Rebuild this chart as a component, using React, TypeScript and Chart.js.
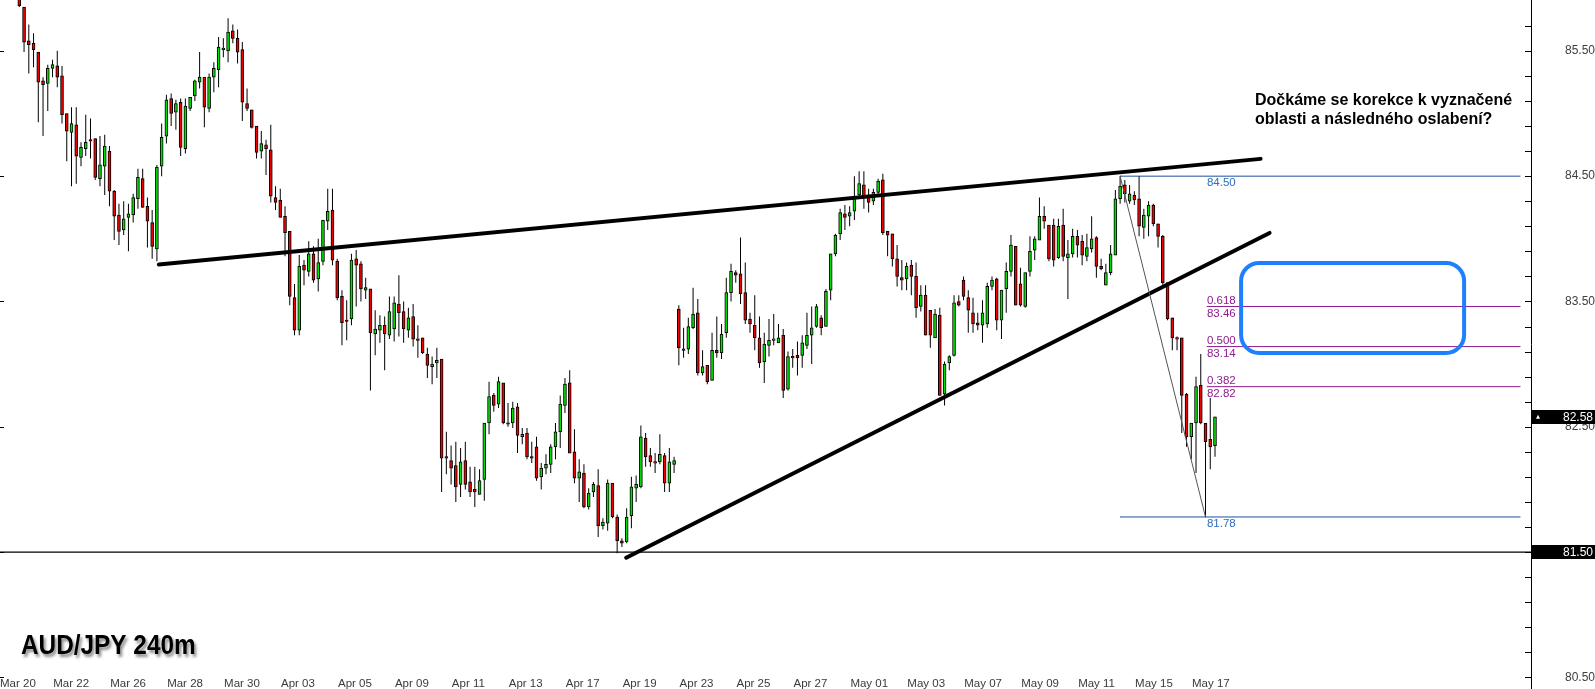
import React, { useEffect, useRef } from 'react';
import { Chart, registerables } from 'chart.js';

Chart.register(...registerables);

const W = 1595;
const H = 689;

// ---- candle data (AUD/JPY, 4h bars) ----
const opens = [
  85.93, 85.85, 85.58, 85.56, 85.49, 85.26, 85.24, 85.36, 85.38, 85.30,
  85.00, 84.85, 84.91, 84.65, 84.72, 84.79, 84.80, 84.48, 84.58, 84.70,
  84.38, 84.19, 84.07, 84.17, 84.19, 84.32, 84.48, 84.26, 84.13, 83.92,
  84.58, 84.82, 85.12, 85.01, 85.09, 84.72, 85.04, 85.14, 85.25, 85.29,
  85.04, 85.29, 85.35, 85.51, 85.50, 85.66, 85.60, 85.51, 85.08, 85.03,
  84.90, 84.70, 84.75, 84.71, 84.33, 84.31, 84.18, 84.06, 83.53, 83.27,
  83.79, 83.74, 83.88, 83.68, 83.82, 84.14, 84.23, 83.82, 83.54, 83.35,
  83.36, 83.84, 83.80, 83.59, 83.60, 83.24, 83.27, 83.31, 83.23, 83.28,
  83.48, 83.42, 83.27, 83.38, 83.20, 83.21, 83.08, 82.98, 83.01, 83.04,
  82.26, 82.23, 82.19, 82.04, 82.23, 82.06, 82.00, 81.96, 82.08, 82.53,
  82.75, 82.68, 82.85, 82.53, 82.53, 82.66, 82.42, 82.45, 82.26, 82.34,
  82.10, 82.17, 82.20, 82.34, 82.46, 82.67, 82.85, 82.30, 82.09, 82.13,
  81.86, 81.98, 82.03, 81.71, 81.73, 82.05, 81.78, 81.59, 81.58, 81.79,
  82.01, 82.02, 82.41, 82.27, 82.22, 82.22, 82.27, 82.05, 82.20, 83.44,
  83.12, 83.12, 83.29, 83.41, 82.93, 82.99, 82.87, 83.11, 83.09, 83.25,
  83.57, 83.73, 83.72, 83.57, 83.36, 83.31, 83.21, 83.02, 83.15, 83.19,
  83.17, 83.23, 82.80, 83.06, 83.07, 83.07, 83.15, 83.23, 83.30, 83.37,
  83.30, 83.59, 83.88, 84.04, 84.20, 84.18, 84.22, 84.35, 84.43, 84.35,
  84.30, 84.37, 84.47, 84.06, 84.04, 83.84, 83.69, 83.68, 83.79, 83.70,
  83.46, 83.55, 83.43, 83.21, 83.39, 82.76, 83.01, 83.07, 83.50, 83.67,
  83.53, 83.41, 83.33, 83.31, 83.32, 83.62, 83.68, 83.35, 83.60, 83.74,
  83.94, 83.64, 83.46, 83.74, 83.91, 83.99, 84.18, 84.11, 84.11, 83.85,
  84.11, 83.85, 83.88, 84.02, 83.98, 83.86, 83.92, 84.01, 83.78, 83.63,
  83.73, 83.87, 84.32, 84.43, 84.30, 84.35, 84.32, 84.09, 84.18, 84.27,
  84.12, 84.02, 83.65, 83.37, 83.21, 83.21, 82.76, 82.42, 82.53, 82.83,
  82.53, 82.40, 82.35,
];

const highs = [
  86.00, 85.85, 85.71, 85.64, 85.49, 85.29, 85.39, 85.43, 85.50, 85.38,
  85.00, 85.05, 85.05, 84.77, 84.99, 84.96, 84.80, 84.82, 84.83, 84.74,
  84.39, 84.28, 84.30, 84.28, 84.36, 84.56, 84.56, 84.33, 84.23, 84.59,
  84.92, 85.15, 85.16, 85.11, 85.12, 85.12, 85.13, 85.27, 85.49, 85.29,
  85.32, 85.41, 85.61, 85.60, 85.76, 85.71, 85.67, 85.57, 85.20, 85.03,
  84.90, 84.86, 84.79, 84.91, 84.42, 84.40, 84.26, 84.06, 83.64, 83.87,
  83.83, 83.98, 83.94, 84.00, 84.15, 84.40, 84.40, 83.84, 83.59, 83.51,
  83.88, 83.91, 83.82, 83.69, 83.60, 83.43, 83.39, 83.38, 83.54, 83.54,
  83.71, 83.50, 83.45, 83.48, 83.31, 83.21, 83.13, 83.06, 83.13, 83.04,
  82.46, 82.35, 82.38, 82.33, 82.38, 82.18, 82.18, 82.16, 82.53, 82.86,
  82.77, 82.90, 82.85, 82.69, 82.70, 82.69, 82.49, 82.49, 82.38, 82.42,
  82.21, 82.28, 82.36, 82.53, 82.75, 82.89, 82.95, 82.48, 82.24, 82.20,
  82.01, 82.06, 82.16, 81.77, 82.08, 82.05, 81.80, 81.61, 81.85, 82.10,
  82.11, 82.51, 82.45, 82.33, 82.29, 82.44, 82.29, 82.33, 82.26, 83.47,
  83.29, 83.37, 83.61, 83.52, 83.11, 82.99, 83.25, 83.38, 83.32, 83.69,
  83.80, 83.75, 84.01, 83.81, 83.41, 83.55, 83.38, 83.25, 83.36, 83.40,
  83.32, 83.28, 83.10, 83.12, 83.18, 83.23, 83.41, 83.46, 83.48, 83.39,
  83.60, 83.88, 84.04, 84.24, 84.27, 84.26, 84.50, 84.54, 84.54, 84.40,
  84.40, 84.48, 84.52, 84.06, 84.04, 83.95, 83.83, 83.81, 83.83, 83.81,
  83.63, 83.63, 83.43, 83.44, 83.45, 83.02, 83.07, 83.55, 83.55, 83.70,
  83.59, 83.53, 83.41, 83.51, 83.65, 83.70, 83.69, 83.59, 83.81, 84.03,
  83.94, 83.77, 83.73, 84.02, 84.02, 84.33, 84.26, 84.11, 84.16, 84.16,
  84.24, 83.99, 84.08, 84.07, 84.03, 84.04, 84.18, 84.02, 83.84, 83.80,
  83.95, 84.39, 84.50, 84.47, 84.43, 84.38, 84.50, 84.24, 84.30, 84.28,
  84.12, 84.03, 83.65, 83.37, 83.22, 83.21, 82.77, 82.53, 82.90, 83.08,
  82.53, 82.73, 82.58,
];

const lows = [
  85.85, 85.49, 85.32, 85.37, 84.93, 84.82, 85.02, 85.29, 85.21, 84.92,
  84.62, 84.42, 84.44, 84.58, 84.66, 84.64, 84.47, 84.42, 84.35, 84.26,
  83.99, 83.95, 84.03, 83.90, 84.13, 84.24, 84.25, 83.93, 83.84, 83.82,
  84.50, 84.76, 84.90, 84.87, 84.66, 84.68, 85.02, 85.10, 85.20, 84.89,
  85.01, 85.17, 85.21, 85.45, 85.41, 85.56, 85.40, 84.94, 85.02, 84.88,
  84.64, 84.64, 84.51, 84.29, 84.23, 84.17, 83.86, 83.47, 83.23, 83.23,
  83.63, 83.70, 83.65, 83.58, 83.79, 84.07, 83.79, 83.51, 83.15, 83.19,
  83.31, 83.46, 83.50, 83.52, 82.79, 83.07, 83.17, 82.95, 83.20, 83.18,
  83.22, 83.17, 83.21, 83.14, 83.05, 83.08, 82.89, 82.84, 82.89, 81.98,
  82.12, 82.04, 81.90, 81.94, 82.00, 81.94, 81.86, 81.96, 81.91, 82.44,
  82.62, 82.65, 82.52, 82.50, 82.49, 82.29, 82.36, 82.24, 82.21, 82.07,
  82.00, 82.12, 82.13, 82.24, 82.33, 82.61, 82.29, 82.05, 81.90, 81.85,
  81.84, 81.94, 81.62, 81.68, 81.67, 81.77, 81.49, 81.54, 81.57, 81.69,
  81.90, 82.01, 82.18, 82.18, 82.13, 82.20, 81.98, 81.98, 82.13, 82.99,
  83.05, 83.08, 83.28, 82.91, 82.91, 82.84, 82.87, 83.05, 83.04, 83.21,
  83.50, 83.65, 83.48, 83.32, 83.25, 83.11, 82.97, 82.85, 83.06, 83.15,
  83.17, 82.73, 82.79, 82.97, 82.91, 82.97, 83.12, 83.00, 83.29, 83.23,
  83.30, 83.51, 83.86, 83.99, 84.07, 84.10, 84.15, 84.32, 84.24, 84.21,
  84.27, 84.35, 84.03, 83.86, 83.78, 83.62, 83.59, 83.59, 83.55, 83.37,
  83.42, 83.23, 83.13, 83.21, 82.75, 82.67, 82.95, 83.06, 83.46, 83.51,
  83.25, 83.25, 83.27, 83.17, 83.29, 83.59, 83.27, 83.20, 83.41, 83.70,
  83.47, 83.46, 83.45, 83.70, 83.83, 83.99, 84.08, 83.82, 83.78, 83.84,
  83.82, 83.52, 83.85, 83.85, 83.79, 83.82, 83.89, 83.69, 83.75, 83.63,
  83.71, 83.87, 84.28, 84.29, 84.28, 84.27, 84.02, 84.00, 84.02, 84.10,
  83.93, 83.62, 83.35, 83.11, 83.11, 82.45, 82.34, 82.24, 82.13, 82.52,
  81.78, 82.16, 82.26,
];

const closes = [
  85.86, 85.57, 85.55, 85.51, 85.25, 85.23, 85.36, 85.39, 85.29, 84.99,
  84.86, 84.92, 84.66, 84.73, 84.77, 84.78, 84.49, 84.59, 84.74, 84.38,
  84.18, 84.06, 84.16, 84.20, 84.33, 84.49, 84.25, 84.14, 83.94, 84.57,
  84.81, 85.11, 85.00, 85.08, 84.73, 85.06, 85.13, 85.26, 85.29, 85.05,
  85.29, 85.36, 85.53, 85.52, 85.65, 85.60, 85.49, 85.09, 85.04, 84.89,
  84.69, 84.76, 84.72, 84.34, 84.29, 84.17, 84.05, 83.54, 83.27, 83.78,
  83.75, 83.88, 83.67, 83.81, 84.15, 84.22, 83.83, 83.53, 83.33, 83.34,
  83.83, 83.79, 83.60, 83.61, 83.25, 83.28, 83.31, 83.24, 83.42, 83.49,
  83.41, 83.28, 83.37, 83.20, 83.19, 83.09, 82.99, 83.00, 83.03, 82.25,
  82.25, 82.17, 82.02, 82.22, 82.04, 81.98, 81.98, 82.07, 82.53, 82.74,
  82.67, 82.86, 82.53, 82.52, 82.65, 82.43, 82.44, 82.26, 82.25, 82.09,
  82.17, 82.20, 82.34, 82.46, 82.68, 82.84, 82.29, 82.09, 82.14, 81.86,
  81.97, 82.04, 81.71, 81.74, 82.05, 81.78, 81.59, 81.57, 81.78, 82.02,
  82.04, 82.42, 82.26, 82.22, 82.21, 82.28, 82.05, 82.22, 82.23, 83.13,
  83.11, 83.30, 83.40, 82.93, 82.98, 82.86, 83.11, 83.09, 83.24, 83.57,
  83.74, 83.71, 83.56, 83.35, 83.32, 83.21, 83.01, 83.16, 83.19, 83.20,
  83.21, 82.79, 83.06, 83.05, 83.05, 83.17, 83.23, 83.29, 83.46, 83.29,
  83.58, 83.88, 84.03, 84.21, 84.17, 84.21, 84.34, 84.44, 84.34, 84.29,
  84.37, 84.46, 84.05, 84.03, 83.84, 83.70, 83.67, 83.78, 83.70, 83.45,
  83.55, 83.23, 83.23, 83.40, 82.75, 83.00, 83.06, 83.49, 83.47, 83.54,
  83.43, 83.32, 83.31, 83.41, 83.62, 83.67, 83.35, 83.59, 83.74, 83.95,
  83.47, 83.47, 83.73, 83.90, 84.00, 84.18, 84.14, 83.84, 83.83, 84.10,
  83.86, 83.88, 84.02, 83.95, 83.87, 83.93, 84.00, 83.78, 83.76, 83.73,
  83.88, 84.32, 84.42, 84.36, 84.36, 84.31, 84.10, 84.19, 84.27, 84.12,
  84.02, 83.65, 83.36, 83.21, 83.20, 82.75, 82.42, 82.53, 82.82, 82.53,
  82.38, 82.34, 82.58,
];

// ---- axis labels ----
const dateLabels = [
  'Mar 20', 'Mar 22', 'Mar 26', 'Mar 28', 'Mar 30', 'Apr 03', 'Apr 05', 'Apr 09',
  'Apr 11', 'Apr 13', 'Apr 17', 'Apr 19', 'Apr 23', 'Apr 25', 'Apr 27', 'May 01',
  'May 03', 'May 07', 'May 09', 'May 11', 'May 15', 'May 17',
];
const dateLabelBars = [-4, 8, 20, 32, 44, 56, 68, 80, 92, 104, 116, 128, 140, 152, 164, 176, 188, 200, 212, 224, 236, 248];
const yMajor = [80.5, 81.5, 82.5, 83.5, 84.5, 85.5];
const yTicks = [
  80.5, 80.7, 80.9, 81.1, 81.3, 81.5, 81.7, 81.9, 82.1, 82.3, 82.5, 82.7, 82.9,
  83.1, 83.3, 83.5, 83.7, 83.9, 84.1, 84.3, 84.5, 84.7, 84.9, 85.1, 85.3, 85.5, 85.7,
];

// ---- drawings (bar index / price coordinates) ----
const upperTrend = [{ x: 29.4, y: 83.795 }, { x: 261.6, y: 84.638 }];
const lowerTrend = [{ x: 127.9, y: 81.455 }, { x: 263.5, y: 84.047 }];
const fibHighBar = 232;
const fibLowBar = 250;
const fibHigh = 84.5;
const fibLow = 81.78;
const fibLabelBar = 250.3;
const fibEndBar = 316.3;
const fibRatios = ['0.618', '0.500', '0.382'];
const fibPrices = [83.46, 83.14, 82.82];
const supportLevel = 81.5;
const lastPrice = 82.58;
const zoneBars = [257.5, 304.5];
const zonePrices = [83.807, 83.089];
const noteLines = ['Dočkáme se korekce k vyznačené', 'oblasti a následného oslabení?'];
const title = 'AUD/JPY 240m';

const xMin = -4.07;
const xMax = 318.6;
const yMax = 85.906;
const yMin = 80.407;

const GREEN = '#00e000';
const RED = '#f00000';

const overlayPlugin = {
  id: 'overlay',
  afterDraw(chart: any) {
    const ctx = chart.ctx as CanvasRenderingContext2D;
    const a = chart.chartArea;
    const xs = chart.scales.x;
    const ys = chart.scales.y;
    const px = (v: number) => xs.getPixelForValue(v);
    const py = (v: number) => ys.getPixelForValue(v);
    ctx.save();

    // price axis separator and tick marks
    ctx.strokeStyle = '#000';
    ctx.lineWidth = 1;
    ctx.beginPath();
    ctx.moveTo(a.right + 0.5, 0);
    ctx.lineTo(a.right + 0.5, chart.height);
    yTicks.forEach((v) => {
      const y = Math.round(py(v)) + 0.5;
      ctx.moveTo(a.right - 6, y);
      ctx.lineTo(a.right + 0.5, y);
    });
    yMajor.forEach((v) => {
      const y = Math.round(py(v)) + 0.5;
      ctx.moveTo(0, y);
      ctx.lineTo(4, y);
    });
    ctx.stroke();

    // date labels
    ctx.font = '11.5px "Liberation Sans", Arial, sans-serif';
    ctx.fillStyle = '#3a3a3a';
    ctx.textBaseline = 'middle';
    ctx.textAlign = 'left';
    dateLabels.forEach((t, i) => {
      ctx.fillText(t, Math.max(0, px(dateLabelBars[i]) - 4), 684);
    });

    // fibonacci labels
    const lx = px(fibLabelBar);
    ctx.fillStyle = '#2c6cc4';
    ctx.fillText(fibHigh.toFixed(2), lx, py(fibHigh) + 6.5);
    ctx.fillText(fibLow.toFixed(2), lx, py(fibLow) + 7);
    ctx.fillStyle = '#8e1b8e';
    fibRatios.forEach((r, i) => {
      const y = py(fibPrices[i]);
      ctx.fillText(r, lx, y - 6);
      ctx.fillText(fibPrices[i].toFixed(2), lx, y + 7);
    });

    // price boxes on the axis
    const box = (price: number, arrow: boolean) => {
      const y = py(price);
      ctx.fillStyle = '#000';
      ctx.fillRect(a.right + 1, Math.round(y - 7), W - a.right, 14);
      ctx.fillStyle = '#fff';
      ctx.font = '12px "Liberation Sans", Arial, sans-serif';
      ctx.textAlign = 'right';
      ctx.fillText(price.toFixed(2), W - 2, y + 0.5);
      if (arrow) {
        ctx.beginPath();
        ctx.moveTo(a.right + 5, y + 2);
        ctx.lineTo(a.right + 9, y + 2);
        ctx.lineTo(a.right + 7, y - 2);
        ctx.closePath();
        ctx.fill();
      }
      ctx.textAlign = 'left';
    };
    box(lastPrice, true);
    box(supportLevel, false);

    // target zone rounded rectangle
    const rx0 = px(zoneBars[0]);
    const rx1 = px(zoneBars[1]);
    const ry0 = py(zonePrices[0]);
    const ry1 = py(zonePrices[1]);
    const r = 18;
    ctx.strokeStyle = '#1f80ff';
    ctx.lineWidth = 4;
    ctx.beginPath();
    ctx.moveTo(rx0 + r, ry0);
    ctx.lineTo(rx1 - r, ry0);
    ctx.arcTo(rx1, ry0, rx1, ry0 + r, r);
    ctx.lineTo(rx1, ry1 - r);
    ctx.arcTo(rx1, ry1, rx1 - r, ry1, r);
    ctx.lineTo(rx0 + r, ry1);
    ctx.arcTo(rx0, ry1, rx0, ry1 - r, r);
    ctx.lineTo(rx0, ry0 + r);
    ctx.arcTo(rx0, ry0, rx0 + r, ry0, r);
    ctx.closePath();
    ctx.stroke();

    // comment text
    ctx.fillStyle = '#000';
    ctx.font = 'bold 16px "Liberation Sans", Arial, sans-serif';
    ctx.textBaseline = 'middle';
    noteLines.forEach((t, i) => ctx.fillText(t, 1255, 101 + i * 18.5));

    // title with shadow
    ctx.save();
    ctx.font = 'bold 28px "Liberation Sans", Arial, sans-serif';
    ctx.textBaseline = 'alphabetic';
    ctx.shadowColor = 'rgba(0,0,0,0.45)';
    ctx.shadowOffsetX = 2;
    ctx.shadowOffsetY = 3;
    ctx.shadowBlur = 3;
    ctx.translate(21, 654);
    ctx.scale(0.87, 1);
    ctx.fillText(title, 0, 0);
    ctx.restore();

    ctx.restore();
  },
};

export default function App() {
  const ref = useRef<HTMLCanvasElement | null>(null);

  useEffect(() => {
    const canvas = ref.current;
    if (!canvas) return;

    const bodies = opens.map((o, i) => ({ x: i, y: [o, closes[i]] }));
    const wicks = lows.map((l, i) => ({ x: i, y: [l, highs[i]] }));
    const bodyColors = opens.map((o, i) => (closes[i] >= o ? GREEN : RED));

    const lineDs = (data: any[], color: string, width: number, order = 0) => ({
      type: 'line' as const,
      data,
      borderColor: color,
      borderWidth: width,
      pointRadius: 0,
      fill: false,
      tension: 0,
      borderCapStyle: 'round' as const,
      order,
    });

    const chart = new Chart(canvas, {
      type: 'bar',
      data: {
        datasets: [
          {
            type: 'bar',
            data: bodies as any,
            backgroundColor: bodyColors,
            borderColor: '#000',
            borderWidth: 1,
            borderSkipped: false,
            barThickness: 3,
            minBarLength: 1.5,
            grouped: false,
            order: 1,
          } as any,
          {
            type: 'bar',
            data: wicks as any,
            backgroundColor: '#000',
            borderWidth: 0,
            barThickness: 1,
            grouped: false,
            inflateAmount: 0,
            order: 2,
          } as any,
          lineDs([{ x: xMin - 1, y: supportLevel }, { x: xMax + 1, y: supportLevel }], '#000', 1.2, 3),
          lineDs([{ x: fibHighBar, y: fibHigh }, { x: fibEndBar, y: fibHigh }], '#1b4f9c', 1, 3),
          lineDs([{ x: fibHighBar, y: fibLow }, { x: fibEndBar, y: fibLow }], '#1b4f9c', 1, 3),
          ...fibPrices.map((p) => lineDs([{ x: fibLabelBar, y: p }, { x: fibEndBar, y: p }], '#8e1b8e', 1, 3)),
          lineDs([{ x: fibHighBar, y: fibHigh }, { x: fibLowBar, y: fibLow }], '#555', 1, 0),
          lineDs(upperTrend, '#000', 4, 0),
          lineDs(lowerTrend, '#000', 4, 0),
        ] as any,
      },
      options: {
        responsive: false,
        animation: false,
        events: [],
        layout: { padding: 0, autoPadding: false } as any,
        plugins: {
          legend: { display: false },
          tooltip: { enabled: false },
        },
        scales: {
          x: {
            type: 'linear',
            min: xMin,
            max: xMax,
            display: false,
            offset: false,
          },
          y: {
            position: 'right',
            min: yMin,
            max: yMax,
            afterBuildTicks: (s: any) => {
              s.ticks = yTicks.map((v) => ({ value: v }));
            },
            afterFit: (s: any) => {
              s.width = W - 1531;
              s.paddingTop = 0;
              s.paddingBottom = 0;
            },
            grid: { display: false, drawTicks: false },
            border: { display: false },
            ticks: {
              autoSkip: false,
              crossAlign: 'far',
              padding: 32,
              color: '#404040',
              font: { family: '"Liberation Sans", Arial, sans-serif', size: 12 },
              callback: (v: any) =>
                yMajor.some((m) => Math.abs(m - Number(v)) < 1e-6) ? Number(v).toFixed(2) : '',
            },
          } as any,
        },
      },
      plugins: [overlayPlugin],
    });

    return () => chart.destroy();
  }, []);

  return (
    <div style={{ position: 'absolute', left: 0, top: 0, width: W, height: H, background: '#fff' }}>
      <canvas ref={ref} width={W} height={H} style={{ display: 'block', width: W, height: H }} />
    </div>
  );
}
